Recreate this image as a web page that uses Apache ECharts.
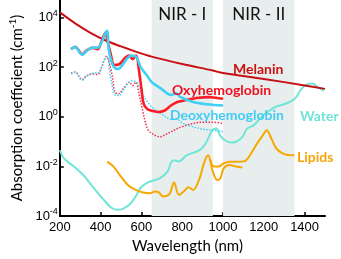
<!DOCTYPE html>
<html>
<head>
<meta charset="utf-8">
<script src="https://cdn.jsdelivr.net/npm/echarts@6/dist/echarts.min.js"></script>
<style>
html,body{margin:0;padding:0;background:#fff;}
#c{width:341px;height:259px;}
</style>
</head>
<body>
<div id="c"></div>
<script>
// Values are log10 of absorption coefficient (cm^-1)
const xTicks = [200, 400, 600, 800, 1000, 1200, 1400];
const yTicks = [-4, -2, 0, 2, 4];

const melaninWl  = [200, 275, 350, 425, 500, 575, 650, 800, 950, 1000, 1200, 1400, 1500];
const melaninLog = [4.2, 3.76, 3.38, 3.07, 2.83, 2.61, 2.42, 2.12, 1.86, 1.76, 1.52, 1.26, 1.12];

const oxyWl  = [255, 275, 300, 310, 330, 360, 385, 405, 415, 425, 432, 447, 468, 492, 522, 541, 556, 574, 588, 599, 611, 630, 651, 682, 714, 745, 776, 808, 870, 933, 964, 1000];
const oxyLog = [2.72, 2.82, 2.58, 2.52, 2.66, 2.77, 2.72, 3.05, 3.25, 3.4, 3.12, 2.6, 2.08, 2.12, 2.38, 2.46, 2.32, 2.46, 1.85, 1.2, 0.52, 0.3, 0.24, 0.19, 0.25, 0.45, 0.59, 0.65, 0.75, 0.79, 0.76, 0.72];

const deoxyWl  = [255, 275, 300, 310, 330, 360, 385, 405, 420, 431, 441, 462, 486, 510, 530, 552, 575, 597, 628, 651, 698, 745, 770, 790, 850, 920, 1000];
const deoxyLog = [2.72, 2.8, 2.55, 2.5, 2.64, 2.78, 2.78, 3.0, 3.3, 3.46, 2.65, 2.05, 1.92, 2.12, 2.35, 2.46, 2.4, 1.99, 1.65, 1.39, 1.12, 0.88, 0.94, 0.8, 0.6, 0.5, 0.45];

const oxyDotWl  = [255, 275, 300, 310, 330, 360, 385, 405, 418, 428, 455, 470, 487, 510, 541, 557, 572, 588, 604, 620, 634, 660, 689, 728, 775, 800, 850, 900, 950, 1000];
const oxyDotLog = [1.75, 1.8, 1.55, 1.5, 1.64, 1.72, 1.7, 2.0, 2.3, 2.42, 1.72, 0.99, 0.92, 1.12, 1.39, 1.25, 1.39, 0.92, 0.32, -0.25, -0.55, -0.72, -0.81, -0.68, -0.48, -0.4, -0.28, -0.22, -0.22, -0.28];

const deoxyDotWl  = [255, 275, 300, 310, 330, 360, 385, 405, 420, 432, 445, 460, 472, 490, 510, 530, 555, 580, 600, 625, 650, 700, 750, 770, 800, 850, 900, 950, 1000];
const deoxyDotLog = [1.72, 1.78, 1.52, 1.47, 1.62, 1.75, 1.76, 2.0, 2.3, 2.4, 1.8, 1.1, 0.86, 0.85, 1.05, 1.3, 1.45, 1.35, 1.0, 0.65, 0.4, 0.1, -0.12, -0.08, -0.25, -0.4, -0.5, -0.55, -0.6];

const waterWl  = [200, 220, 268, 315, 360, 408, 455, 485, 508, 540, 572, 595, 611, 642, 689, 728, 745, 760, 783, 823, 885, 915, 947, 968, 985, 1009, 1040, 1064, 1095, 1118, 1150, 1188, 1228, 1259, 1305, 1352, 1385, 1416, 1440, 1463, 1494];
const waterLog = [-1.35, -1.68, -2.0, -2.35, -2.81, -3.28, -3.68, -3.75, -3.71, -3.55, -3.21, -2.88, -2.75, -2.61, -2.48, -2.21, -1.85, -1.75, -1.8, -1.55, -1.35, -1.08, -0.55, -0.48, -0.75, -0.95, -1.04, -1.01, -0.81, -0.48, -0.35, -0.01, 0.25, 0.4, 0.52, 0.72, 1.12, 1.32, 1.34, 1.19, 1.05];

const lipidAWl  = [432, 463, 494, 533, 572, 603, 642, 666, 685, 705, 737, 760, 784, 815, 830, 854, 885, 909, 927, 950, 972, 987, 1003, 1033, 1064, 1095];
const lipidALog = [-1.81, -2.01, -2.35, -2.75, -2.95, -3.04, -3.08, -3.01, -3.05, -3.21, -3.12, -2.65, -3.15, -2.95, -2.84, -2.95, -2.48, -1.81, -1.55, -2.21, -2.55, -2.48, -2.08, -1.95, -2.01, -2.05];

const lipidBWl  = [935, 956, 979, 1002, 1033, 1070, 1104, 1143, 1167, 1195, 1214, 1237, 1261, 1292, 1331, 1350];
const lipidBLog = [-1.7, -2.01, -2.01, -1.88, -1.81, -1.81, -1.8, -1.41, -1.08, -0.75, -0.55, -0.88, -1.28, -1.48, -1.55, -1.55];

const nirBands = [['NIR - I', 650, 950], ['NIR - II', 1000, 1350]];

function pairs(xs, ys){ return xs.map((x, i) => [x, ys[i]]); }

const chart = echarts.init(document.getElementById('c'), null, {renderer: 'canvas'});

const lineBase = {type: 'line', showSymbol: false, symbol: 'none', smooth: 0.35, silent: true, animation: false};

chart.setOption({
  animation: false,
  grid: {left: 47, right: 16, top: 0, bottom: 41},
  xAxis: {
    type: 'value', min: 200, max: 1500, interval: 200,
    axisLine: {onZero: false, lineStyle: {color: '#000', width: 2}},
    axisTick: {inside: true, length: 4, lineStyle: {color: '#000', width: 1.5}, customValues: xTicks},
    axisLabel: {customValues: xTicks, formatter: v => String(v), color: '#000', fontSize: 13, fontFamily: 'Liberation Sans', margin: 5},
    splitLine: {show: false},
    name: 'Wavelength (nm)', nameLocation: 'middle', nameGap: 23,
    nameTextStyle: {fontSize: 15, fontFamily: 'Lato', color: '#000', padding: [0, 10, 0, 0]}
  },
  yAxis: {
    type: 'value', min: -4, max: 4.7, interval: 2,
    axisLine: {onZero: false, lineStyle: {color: '#000', width: 2}},
    axisTick: {inside: true, length: 4, lineStyle: {color: '#000', width: 1.5}, customValues: yTicks},
    axisLabel: {
      customValues: yTicks, margin: 2,
      formatter: v => '{b|10}{s|' + v + '}',
      rich: {
        b: {fontSize: 13, fontFamily: 'Liberation Sans', color: '#000'},
        s: {fontSize: 9, fontFamily: 'Liberation Sans', color: '#000', verticalAlign: 'top', padding: [0, 0, 8, 0]}
      }
    },
    splitLine: {show: false},
    name: 'Absorption coefficient (cm{sup|-1})', nameLocation: 'middle', nameGap: 31, nameRotate: 90,
    nameTextStyle: {fontSize: 15, fontFamily: 'Lato', color: '#000',
      rich: {sup: {fontSize: 10, fontFamily: 'Lato', color: '#000', padding: [0, 0, 8, 0]}}}
  },
  series: [
    Object.assign({}, lineBase, {
      name: 'bands', data: [], z: 1,
      markArea: {
        silent: true,
        itemStyle: {color: '#e8eded'},
        label: {show: true, position: 'insideTop', distance: 6, fontSize: 17, fontFamily: 'Lato', color: '#111'},
        data: nirBands.map(b => [{name: b[0], xAxis: b[1]}, {xAxis: b[2]}])
      }
    }),
    Object.assign({}, lineBase, {name: 'Water', z: 2, data: pairs(waterWl, waterLog), lineStyle: {color: '#6fe6d6', width: 2}}),
    Object.assign({}, lineBase, {name: 'Lipids A', z: 2, data: pairs(lipidAWl, lipidALog), lineStyle: {color: '#f6a800', width: 2}}),
    Object.assign({}, lineBase, {name: 'Lipids B', z: 2, data: pairs(lipidBWl, lipidBLog), lineStyle: {color: '#f6a800', width: 2}}),
    Object.assign({}, lineBase, {name: 'Oxy dotted', z: 3, data: pairs(oxyDotWl, oxyDotLog), lineStyle: {color: '#f0304a', width: 1.5, type: 'dotted'}}),
    Object.assign({}, lineBase, {name: 'Deoxy dotted', z: 3, data: pairs(deoxyDotWl, deoxyDotLog), lineStyle: {color: '#40d4f4', width: 1.5, type: 'dotted'}}),
    Object.assign({}, lineBase, {name: 'Melanin', z: 4, data: pairs(melaninWl, melaninLog), lineStyle: {color: '#c80f14', width: 2}}),
    Object.assign({}, lineBase, {name: 'Oxyhemoglobin', z: 5, data: pairs(oxyWl, oxyLog), lineStyle: {color: '#ff1a28', width: 2.6}}),
    Object.assign({}, lineBase, {name: 'Deoxyhemoglobin', z: 6, data: pairs(deoxyWl, deoxyLog), lineStyle: {color: '#3fd0f2', width: 2.6}})
  ],
  graphic: [
    {type: 'text', z: 100, style: {text: 'Melanin', x: 233, y: 69, verticalAlign: 'middle', fill: '#cc1111', font: 'bold 14px Lato'}},
    {type: 'text', z: 100, style: {text: 'Oxyhemoglobin', x: 172, y: 90, verticalAlign: 'middle', fill: '#ee1122', font: 'bold 14px Lato'}},
    {type: 'text', z: 100, style: {text: 'Deoxyhemoglobin', x: 170, y: 115, verticalAlign: 'middle', fill: '#44ccf2', font: 'bold 14px Lato'}},
    {type: 'text', z: 100, style: {text: 'Water', x: 300, y: 116, verticalAlign: 'middle', fill: '#6fe3d6', font: 'bold 14px Lato'}},
    {type: 'text', z: 100, style: {text: 'Lipids', x: 297, y: 157, verticalAlign: 'middle', fill: '#f5a50a', font: 'bold 14px Lato'}}
  ]
});
</script>
</body>
</html>
